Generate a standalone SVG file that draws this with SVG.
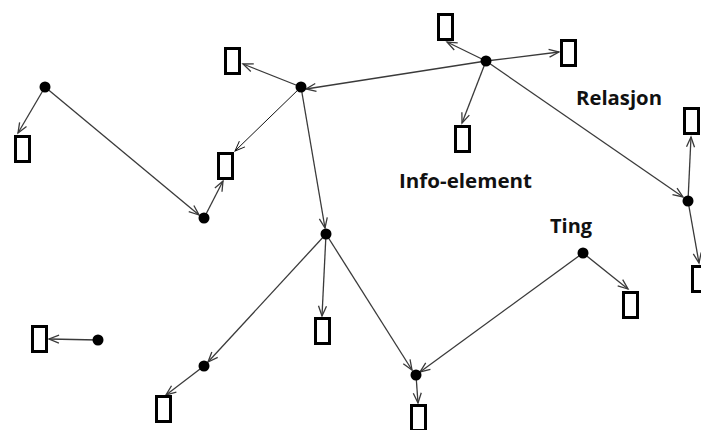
<svg xmlns="http://www.w3.org/2000/svg" width="701" height="430" viewBox="0 0 701 430">
<style>
.c{fill:none;stroke:#3a3a3a;stroke-width:1.3;marker-end:url(#ah)}
.c2{fill:none;stroke:#111;stroke-width:1;marker-end:url(#ah2)}
.r{fill:#fff;stroke:#000;stroke-width:3}
.d{fill:#000}
.t{font-family:"Open Sans","Liberation Sans",sans-serif;font-weight:bold;font-size:19.5px;fill:#111}
</style>
<defs>
<marker id="ah" markerUnits="userSpaceOnUse" markerWidth="12" markerHeight="10" refX="10" refY="4" orient="auto" overflow="visible">
<path d="M0,0 L10,4 L0,8" fill="none" stroke="#3a3a3a" stroke-width="1.3"/>
</marker>
<marker id="ah2" markerUnits="userSpaceOnUse" markerWidth="12" markerHeight="10" refX="10" refY="4" orient="auto" overflow="visible">
<path d="M0,0 L10,4 L0,8" fill="none" stroke="#111" stroke-width="1"/>
</marker>
</defs>
<rect width="701" height="430" fill="#fff"/>
<g id="connectors">
<line class="c" x1="45" y1="87" x2="18" y2="133"/>
<line class="c" x1="45" y1="87" x2="199" y2="215"/>
<line class="c" x1="204" y1="218" x2="223" y2="181"/>
<line class="c" x1="301" y1="87" x2="243" y2="64"/>
<line class="c2" x1="301" y1="87" x2="235" y2="151"/>
<line class="c" x1="301" y1="87" x2="325" y2="228"/>
<line class="c" x1="486" y1="61" x2="306" y2="89"/>
<line class="c" x1="486" y1="61" x2="447" y2="42"/>
<line class="c" x1="486" y1="61" x2="559" y2="52"/>
<line class="c" x1="486" y1="61" x2="462" y2="123"/>
<line class="c" x1="486" y1="61" x2="683" y2="197"/>
<line class="c" x1="688" y1="201" x2="691" y2="137"/>
<line class="c" x1="688" y1="201" x2="699" y2="263"/>
<line class="c" x1="326" y1="234" x2="322" y2="316"/>
<line class="c" x1="326" y1="234" x2="208" y2="362"/>
<line class="c" x1="326" y1="234" x2="412" y2="370"/>
<line class="c" x1="583" y1="253" x2="420" y2="372"/>
<line class="c" x1="583" y1="253" x2="628" y2="289"/>
<line class="c" x1="416" y1="375" x2="418" y2="403"/>
<line class="c" x1="204" y1="366" x2="166" y2="395"/>
<line class="c" x1="98" y1="340" x2="49" y2="339"/>
</g>
<g id="A"><circle class="d" cx="45" cy="87" r="5.5"/></g>
<g id="B"><circle class="d" cx="204" cy="218" r="5.5"/></g>
<g id="C"><circle class="d" cx="301" cy="87" r="5.5"/></g>
<g id="D"><circle class="d" cx="326" cy="234" r="5.5"/></g>
<g id="E"><circle class="d" cx="486" cy="61" r="5.5"/></g>
<g id="F"><circle class="d" cx="688" cy="201" r="5.5"/></g>
<g id="G"><circle class="d" cx="583" cy="253" r="5.5"/></g>
<g id="H"><circle class="d" cx="416" cy="375" r="5.5"/></g>
<g id="I"><circle class="d" cx="204" cy="366" r="5.5"/></g>
<g id="J"><circle class="d" cx="98" cy="340" r="5.5"/></g>
<g id="R1"><rect class="r" x="15.5" y="136.5" width="14" height="25"/></g>
<g id="R2"><rect class="r" x="218.5" y="153.5" width="14" height="25"/></g>
<g id="R3"><rect class="r" x="225.5" y="48.5" width="14" height="25"/></g>
<g id="R4"><rect class="r" x="438.5" y="14.5" width="14" height="25"/></g>
<g id="R5"><rect class="r" x="561.5" y="40.5" width="14" height="25"/></g>
<g id="R6"><rect class="r" x="455.5" y="126.5" width="14" height="25"/></g>
<g id="R7"><rect class="r" x="684.5" y="108.5" width="14" height="25"/></g>
<g id="R8"><rect class="r" x="692.5" y="266.5" width="14" height="25"/></g>
<g id="R9"><rect class="r" x="623.5" y="292.5" width="14" height="25"/></g>
<g id="R10"><rect class="r" x="411.5" y="405.5" width="14" height="25"/></g>
<g id="R11"><rect class="r" x="315.5" y="318.5" width="14" height="25"/></g>
<g id="R12"><rect class="r" x="156.5" y="396.5" width="14" height="25"/></g>
<g id="R13"><rect class="r" x="32.5" y="326.5" width="14" height="25"/></g>
<g id="labels">
<text class="t" x="576" y="105" textLength="86" lengthAdjust="spacingAndGlyphs">Relasjon</text>
<text class="t" x="399" y="188" textLength="133" lengthAdjust="spacingAndGlyphs">Info-element</text>
<text class="t" x="550" y="233" textLength="42" lengthAdjust="spacingAndGlyphs">Ting</text>
</g>
</svg>
